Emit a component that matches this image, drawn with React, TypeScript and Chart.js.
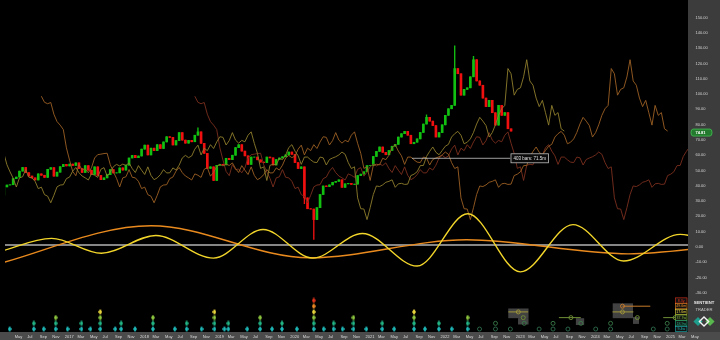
import React, { useEffect, useRef } from 'react';
import { Chart, registerables } from 'chart.js';

Chart.register(...registerables);

const FONT = "'Liberation Sans', Arial, sans-serif";

// ---- price data (semi-monthly bars, WTI-like) ----
const firstBarTime = 2016.1875;
const barsPerYear = 24;
// closes before the visible window (Aug 2014 - Feb 2016), used by the shifted FLD lines
const earlyCloses = [
  97.6, 93.6, 92.7, 93.5, 85.8, 81.0, 78.7, 75.8, 63.8, 55.8,
  48.4, 45.6, 52.9, 49.6, 50.0, 47.5, 50.8, 57.2, 59.4, 59.7, 60.1, 60.3,
  52.8, 48.1, 43.9, 38.2, 44.2, 44.9, 49.6, 44.6, 44.2, 41.9, 37.2, 38.1,
  33.2, 32.2, 27.9, 32.8,
];
const closes = [
  // 2016 (from Mar)
  38.3, 39.5, 39.7, 43.7, 44.7, 48.6, 51.0, 47.6, 45.4, 44.2, 42.8, 46.8, 45.9, 44.5, 49.8, 50.9, 45.3, 47.9, 51.5, 53.0,
  // 2017
  52.0, 53.2, 52.3, 54.0, 50.3, 47.7, 52.2, 49.2, 46.4, 51.4, 45.8, 43.0, 44.2, 46.3, 49.6, 47.4, 47.5, 50.7, 49.3, 52.5, 57.2, 58.9, 57.4, 58.5,
  // 2018
  63.0, 65.6, 59.2, 63.6, 62.0, 65.9, 63.4, 67.7, 71.1, 70.7, 65.7, 68.6, 73.8, 68.9, 66.9, 68.7, 67.8, 72.1, 74.3, 66.8, 60.2, 50.4, 51.4, 42.5,
  // 2019
  52.4, 53.1, 52.7, 57.0, 56.1, 59.0, 64.0, 65.9, 61.7, 58.6, 53.0, 57.8, 57.8, 56.0, 54.5, 54.2, 57.8, 57.3, 52.6, 56.2, 57.2, 58.0, 59.2, 61.1,
  // 2020
  59.6, 54.2, 50.3, 51.4, 31.1, 24.0, 23.8, 16.9, 24.7, 33.3, 38.9, 38.5, 39.6, 41.3, 41.9, 42.9, 38.0, 40.3, 40.6, 39.9, 40.1, 45.7, 46.6, 48.2,
  // 2021
  52.2, 52.3, 58.2, 61.5, 64.4, 60.9, 59.3, 62.1, 64.9, 66.1, 70.9, 73.1, 74.6, 72.1, 66.5, 67.5, 69.7, 73.9, 79.4, 83.8, 81.3, 78.4, 70.9, 73.8,
  // 2022
  78.9, 85.1, 89.4, 91.6, 115.7, 112.3, 98.3, 102.1, 103.1, 110.3, 121.5, 107.6, 104.8, 96.4, 90.8, 94.9, 86.8, 78.7, 91.6, 85.1, 86.9, 76.3, 74.81,
];
const wickHighIdx = [62, 135, 144, 150];
const wickHighVal = [76.9, 85.4, 130.5, 123.7];
const wickLowIdx = [67, 96, 99];
const wickLowVal = [42.4, 27.3, 4.0];
const lastPrice = 74.81;

// ---- FLD lines (price shifted forward) ----
const fldShiftBars = [17, 50, 99];
const fldColors = ['#8e7e2c', '#9c6024', '#7a2f1e'];

// ---- cycle oscillators (peaks / troughs) ----
const osc18T = [2016.124, 2016.824, 2017.486, 2018.211, 2018.978, 2019.638, 2020.299, 2020.960, 2021.687, 2022.361, 2023.061, 2023.761, 2024.435, 2025.188, 2025.91];
const osc18V = [-4.2, 4.6, -5.1, 6.5, -8.3, 10.4, -8.3, 7.8, -13.5, 20.7, -17.3, 13.6, -10.2, 7.2, -6.0];
const osc54T = [2016.031, 2018.146, 2020.259, 2022.346, 2024.499, 2026.24];
const osc54V = [-13.2, 12.9, -8.1, 3.7, -5.5, 3.0];

// ---- measurement line ----
const measureT = [2021.62, 2022.93];
const measureV = 57.0;
const measureText = '403 bars: 71.5m';

// ---- trough markers (past) ----
const troughT = [
  2016.2655, 2016.5865, 2016.7186, 2016.8771, 2017.0357, 2017.2206, 2017.3395, 2017.4716, 2017.6697,
  2017.7490, 2017.9339, 2018.1717, 2018.4623, 2018.6209, 2018.8190, 2018.9908, 2019.1229, 2019.1757,
  2019.4267, 2019.5984, 2019.7569, 2019.8890, 2020.0872, 2020.3118, 2020.4439, 2020.5760, 2020.6949,
  2020.8402, 2021.0119, 2021.2232, 2021.3818, 2021.6460, 2021.7913, 2021.9762, 2022.1480, 2022.3593,
];
const troughLevels = [1, 2, 1, 3, 1, 2, 1, 4, 1, 2, 1, 3, 1, 2, 1, 4, 1, 2, 1, 3, 1, 2, 1, 6, 1, 2, 1, 3, 1, 2, 1, 4, 1, 2, 1, 3];

// ---- projected troughs (future) ----
const projT = [2022.518, 2022.730, 2022.730, 2022.928, 2023.034, 2023.100, 2023.113, 2023.311, 2023.496, 2023.496, 2023.694, 2023.734, 2023.866, 2024.064, 2024.262, 2024.262, 2024.420, 2024.420, 2024.619, 2024.830, 2025.015, 2025.015, 2025.121];
const projLevel = [1, 1, 2, 1, 4, 3, 2, 1, 1, 2, 1, 3, 2, 1, 1, 2, 4, 5, 3, 1, 1, 2, 3];
const projLineStart = [2022.901, 2023.574, 2024.288, 2024.420, 2024.962];
const projLineEnd = [2023.165, 2023.865, 2024.565, 2024.790, 2025.121];
const projLineLevel = [4, 3, 4, 5, 3];
const projBoxStart = [2022.90, 2023.03, 2023.80, 2024.29, 2024.56];
const projBoxEnd = [2023.17, 2023.17, 2023.91, 2024.56, 2024.64];
const projBoxLow = [2.9, 1.8, 1.7, 2.9, 1.9];
const projBoxHigh = [4.6, 2.9, 2.9, 5.5, 3.1];

// ---- legend / axes ----
const cycleLabels = ['8.3y', '49.6m', '17.6m', '37.7w', '18.9w', '9.4w'];
const cycleLabelLevels = [6, 5, 4, 3, 2, 1];
const levelColors = ['', '#1fb8b8', '#22b585', '#8cc63f', '#e8d43c', '#f08a24', '#e5331a'];
const projColors = ['', '#2f6e4e', '#3a7a4a', '#6f8f35', '#a0963a', '#c87a2a', '#b33a20'];
const yTickValues = [150, 140, 130, 120, 110, 100, 90, 80, 70, 60, 50, 40, 30, 20, 10, 0, -10, -20, -30];
const monthNames = ['Jan', 'Feb', 'Mar', 'Apr', 'May', 'Jun', 'Jul', 'Aug', 'Sep', 'Oct', 'Nov', 'Dec'];

const xMin = 2016.2034;
const xMax = 2025.2919;
const xLabelMax = 2025.34;
const yMin = -56.64;
const yMax = 157.28;

function diamondCanvas(color: string) {
  const c = document.createElement('canvas');
  c.width = 4;
  c.height = 6;
  const g = c.getContext('2d')!;
  g.fillStyle = color;
  g.beginPath();
  g.moveTo(2, 0);
  g.lineTo(4, 3);
  g.lineTo(2, 6);
  g.lineTo(0, 3);
  g.closePath();
  g.fill();
  return c;
}

const decorPlugin = {
  id: 'decor',
  beforeDraw(chart: any) {
    const { ctx, width, height, chartArea: a } = chart;
    ctx.save();
    ctx.fillStyle = '#000';
    ctx.fillRect(0, 0, width, height);
    ctx.fillStyle = '#3c3c3c';
    ctx.fillRect(a.right, 0, width - a.right, a.bottom);
    ctx.fillStyle = '#4b4b4b';
    ctx.fillRect(0, a.bottom, width, height - a.bottom);
    ctx.restore();
  },
  beforeDatasetsDraw(chart: any) {
    const { ctx } = chart;
    const xs = chart.scales.x;
    const ms = chart.scales.yM;
    ctx.save();
    ctx.fillStyle = 'rgba(110,110,110,0.6)';
    for (let i = 0; i < projBoxStart.length; i++) {
      const x1 = xs.getPixelForValue(projBoxStart[i]);
      const x2 = xs.getPixelForValue(projBoxEnd[i]);
      const y1 = ms.getPixelForValue(projBoxHigh[i]);
      const y2 = ms.getPixelForValue(projBoxLow[i]);
      ctx.fillRect(x1, y1, x2 - x1, y2 - y1);
    }
    ctx.restore();
  },
  afterDraw(chart: any) {
    const { ctx, chartArea: a } = chart;
    const xs = chart.scales.x;
    const ys = chart.scales.y;
    const ms = chart.scales.yM;
    ctx.save();
    // measurement label
    const px = xs.getPixelForValue(measureT[1]);
    const py = ys.getPixelForValue(measureV);
    ctx.font = `4.5px ${FONT}`;
    const tw = ctx.measureText(measureText).width;
    ctx.fillStyle = '#0b0b0b';
    ctx.fillRect(px, py - 4.5, tw + 6, 9);
    ctx.strokeStyle = '#bdbdbd';
    ctx.lineWidth = 0.8;
    ctx.strokeRect(px + 0.5, py - 4.5, tw + 5, 9);
    ctx.fillStyle = '#e2e2e2';
    ctx.textBaseline = 'middle';
    ctx.textAlign = 'left';
    ctx.fillText(measureText, px + 3, py + 0.3);

    // cycle legend boxes
    ctx.font = `3.6px ${FONT}`;
    ctx.textAlign = 'center';
    for (let k = 0; k < cycleLabels.length; k++) {
      const L = cycleLabelLevels[k];
      const cy = ms.getPixelForValue(L);
      const bx = a.right - 12.5;
      ctx.fillStyle = '#121212';
      ctx.fillRect(bx, cy - 2.6, 11.5, 5.2);
      ctx.strokeStyle = levelColors[L];
      ctx.lineWidth = 0.6;
      ctx.strokeRect(bx, cy - 2.6, 11.5, 5.2);
      ctx.fillStyle = levelColors[L];
      ctx.fillText(cycleLabels[k], bx + 5.75, cy + 0.2);
    }

    // last price tag
    const ty = ys.getPixelForValue(lastPrice) + 1.5;
    ctx.beginPath();
    const rx = a.right + 3, rw = 21, rh = 7;
    ctx.moveTo(rx + 2, ty - rh / 2);
    ctx.lineTo(rx + rw - 2, ty - rh / 2);
    ctx.quadraticCurveTo(rx + rw, ty - rh / 2, rx + rw, ty);
    ctx.quadraticCurveTo(rx + rw, ty + rh / 2, rx + rw - 2, ty + rh / 2);
    ctx.lineTo(rx + 2, ty + rh / 2);
    ctx.quadraticCurveTo(rx, ty + rh / 2, rx, ty);
    ctx.quadraticCurveTo(rx, ty - rh / 2, rx + 2, ty - rh / 2);
    ctx.closePath();
    ctx.fillStyle = '#23792d';
    ctx.fill();
    ctx.strokeStyle = '#44c055';
    ctx.lineWidth = 0.8;
    ctx.stroke();
    ctx.fillStyle = '#ffffff';
    ctx.font = `bold 4px ${FONT}`;
    ctx.textAlign = 'left';
    ctx.fillText(lastPrice.toFixed(2), a.right + 7.5, ty + 0.2);

    // logo
    const cx = (a.right + chart.width) / 2;
    ctx.textAlign = 'center';
    ctx.fillStyle = '#e4e4e4';
    ctx.font = `bold 4.2px ${FONT}`;
    ctx.fillText('SENTIENT', cx, 303);
    ctx.fillStyle = '#c4c4c4';
    ctx.font = `4.2px ${FONT}`;
    ctx.fillText('TRADER', cx, 309.5);
    const dy = 321.5;
    const dia = (x: number, r: number) => {
      ctx.beginPath();
      ctx.moveTo(x, dy - r);
      ctx.lineTo(x + r, dy);
      ctx.lineTo(x, dy + r);
      ctx.lineTo(x - r, dy);
      ctx.closePath();
    };
    dia(cx - 6, 4.6);
    ctx.fillStyle = '#1e9c8c';
    ctx.fill();
    dia(cx + 6, 4.6);
    ctx.fillStyle = '#58b84e';
    ctx.fill();
    dia(cx, 4.6);
    ctx.strokeStyle = '#f2f2f2';
    ctx.lineWidth = 1.4;
    ctx.stroke();
    ctx.restore();
  },
};

export default function App() {
  const ref = useRef<HTMLCanvasElement>(null);

  useEffect(() => {
    const allCloses = earlyCloses.concat(closes);
    const allT = allCloses.map((_, k) => firstBarTime + (k - earlyCloses.length) / barsPerYear);
    const barT = closes.map((_, i) => firstBarTime + i / barsPerYear);
    const opens = closes.map((_, i) => allCloses[earlyCloses.length + i - 1]);
    const highs = closes.map((c, i) => Math.max(c, opens[i]));
    const lows = closes.map((c, i) => Math.min(c, opens[i]));
    wickHighIdx.forEach((idx, j) => { highs[idx] = Math.max(highs[idx], wickHighVal[j]); });
    wickLowIdx.forEach((idx, j) => { lows[idx] = Math.min(lows[idx], wickLowVal[j]); });
    const candleColors = closes.map((c, i) => (c >= opens[i] ? '#12c012' : '#f01010'));

    const datasets: any[] = [];

    // oscillators
    datasets.push({
      type: 'line', label: '18m', data: osc18T.map((t, i) => ({ x: t, y: osc18V[i] })),
      borderColor: '#f2d52a', borderWidth: 1.4, pointRadius: 0, cubicInterpolationMode: 'monotone',
      capBezierPoints: false, order: 1,
    });
    datasets.push({
      type: 'line', label: '54m', data: osc54T.map((t, i) => ({ x: t, y: osc54V[i] })),
      borderColor: '#e98a1e', borderWidth: 1.4, pointRadius: 0, cubicInterpolationMode: 'monotone',
      capBezierPoints: false, order: 1,
    });

    // past trough diamonds
    for (let L = 1; L <= 6; L++) {
      const img = diamondCanvas(levelColors[L]);
      const pts = troughT.map((t, i) => ({ x: t, y: L, n: troughLevels[i] })).filter((p) => p.n >= L);
      datasets.push({
        type: 'line', label: 'trough' + L, data: pts, yAxisID: 'yM', showLine: false,
        pointStyle: img, pointRadius: 2, order: 2,
      });
    }
    // projected troughs
    datasets.push({
      type: 'line', label: 'proj', data: projT.map((t, i) => ({ x: t, y: projLevel[i] })), yAxisID: 'yM',
      showLine: false, pointStyle: 'circle', pointRadius: 2,
      pointBackgroundColor: 'rgba(0,0,0,0)', pointBorderWidth: 0.9,
      pointBorderColor: projLevel.map((L) => projColors[L]), order: 2,
    });
    projLineStart.forEach((t, i) => {
      datasets.push({
        type: 'line', label: 'pl' + i,
        data: [{ x: t, y: projLineLevel[i] }, { x: projLineEnd[i], y: projLineLevel[i] }],
        yAxisID: 'yM', borderColor: projColors[projLineLevel[i]], borderWidth: 1, pointRadius: 0, order: 3,
      });
    });

    // measurement line
    datasets.push({
      type: 'line', label: 'measure',
      data: [{ x: measureT[0], y: measureV }, { x: measureT[1], y: measureV }],
      borderColor: '#c8c8c8', borderWidth: 0.8, pointRadius: 0, order: 3,
    });

    // FLDs
    fldShiftBars.forEach((s, j) => {
      datasets.push({
        type: 'line', label: 'fld' + j,
        data: allCloses.map((v, k) => ({ x: allT[k] + s / barsPerYear, y: v })),
        borderColor: fldColors[j], borderWidth: 0.9, pointRadius: 0, tension: 0, order: 4,
      });
    });

    // candles
    datasets.push({
      type: 'bar', label: 'body', data: closes.map((c, i) => ({ x: barT[i], y: [opens[i], c] })),
      backgroundColor: candleColors, barThickness: 2, grouped: false, order: 5,
    });
    datasets.push({
      type: 'bar', label: 'wick', data: closes.map((_, i) => ({ x: barT[i], y: [lows[i], highs[i]] })),
      backgroundColor: candleColors, barThickness: 0.7, grouped: false, order: 6,
    });

    const chart = new Chart(ref.current as HTMLCanvasElement, {
      type: 'bar',
      data: { datasets },
      options: {
        responsive: false,
        animation: false,
        devicePixelRatio: 1,
        events: [],
        layout: { padding: 0 },
        plugins: { legend: { display: false }, tooltip: { enabled: false } },
        scales: {
          x: {
            type: 'linear', min: xMin, max: xMax, offset: false, position: 'bottom',
            grid: { display: false, drawTicks: false, offset: false },
            border: { display: false },
            ticks: {
              autoSkip: false, maxRotation: 0, minRotation: 0, align: 'start', padding: 2,
              color: '#dcdcdc', font: { size: 4, family: FONT },
              callback: (value: any) => {
                const v = Number(value);
                const yr = Math.floor(v + 1e-6);
                const m = Math.round((v - yr) * 12);
                return m === 0 ? String(yr) : monthNames[m];
              },
            },
            afterBuildTicks: (scale: any) => {
              const ticks: any[] = [];
              for (let yr = 2016; yr <= 2025; yr++) {
                for (let m = 0; m < 12; m += 2) {
                  const v = yr + m / 12;
                  if (v >= xMin && v <= xLabelMax) ticks.push({ value: v });
                }
              }
              scale.ticks = ticks;
            },
            afterFit: (scale: any) => {
              scale.height = 8;
              scale.paddingLeft = 0;
              scale.paddingRight = 0;
            },
          },
          y: {
            type: 'linear', position: 'right', min: yMin, max: yMax, beginAtZero: false,
            grid: {
              drawTicks: false,
              color: (ctx: any) => (ctx.tick && ctx.tick.value === 0 ? '#868686' : 'rgba(0,0,0,0)'),
              lineWidth: 2,
            },
            border: { display: false },
            ticks: {
              padding: 7.5, labelOffset: 1.5, color: '#d2d2d2', font: { size: 4, family: FONT },
              callback: (value: any) => Number(value).toFixed(2),
            },
            afterBuildTicks: (scale: any) => {
              scale.ticks = yTickValues.map((v) => ({ value: v }));
            },
            afterFit: (scale: any) => {
              scale.width = 32;
              scale.paddingTop = 0;
              scale.paddingBottom = 0;
            },
          },
          yM: { type: 'linear', display: false, min: 0.483, max: 57.72 },
        },
      } as any,
      plugins: [decorPlugin as any],
    });
    return () => chart.destroy();
  }, []);

  return (
    <div style={{ position: 'fixed', left: 0, top: 0, width: 720, height: 340, background: '#000' }}>
      <canvas ref={ref} width={720} height={340} style={{ display: 'block', width: 720, height: 340 }} />
    </div>
  );
}
